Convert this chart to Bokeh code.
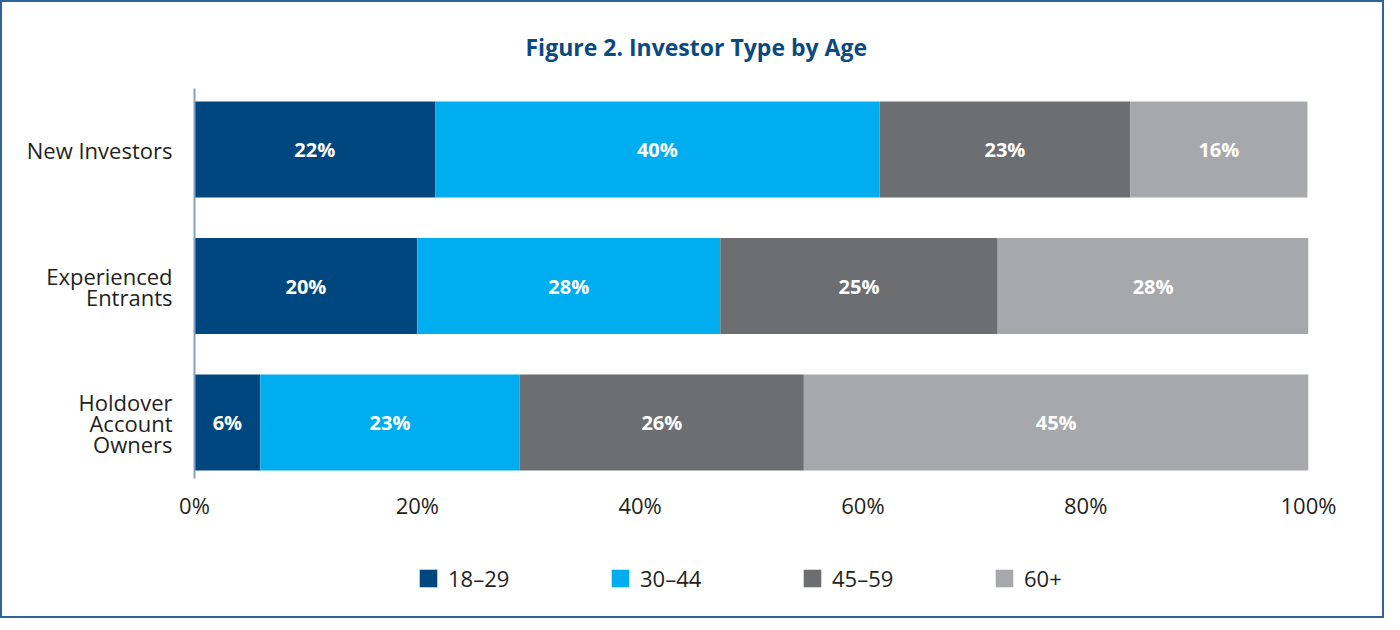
from bokeh.plotting import figure
from bokeh.layouts import column
from bokeh.models import (Range1d, FixedTicker, Legend, LegendItem, ColumnDataSource,
                          PrintfTickFormatter, Title)
from bokeh.core.properties import value
from bokeh.embed import file_html
from bokeh.resources import INLINE

# ---- data ----
investor_types = ["New Investors", "Experienced\nEntrants", "Holdover\nAccount\nOwners"]
age_groups = ["18–29", "30–44", "45–59", "60+"]
share_18_29 = [21.6, 20.0, 5.9]
share_30_44 = [39.9, 27.2, 23.3]
share_45_59 = [22.5, 24.9, 25.5]
share_60_plus = [15.9, 27.9, 45.3]
shown_18_29 = [22, 20, 6]
shown_30_44 = [40, 28, 23]
shown_45_59 = [23, 25, 26]
shown_60_plus = [16, 28, 45]
x_ticks = [0, 20, 40, 60, 80, 100]
colors = ["#00467F", "#00ADEE", "#6D6E72", "#A7A8AC"]

FONT = "Open Sans"
TEXT_COLOR = "#231F20"
W = 1380

ypos = list(range(len(investor_types)))
src = ColumnDataSource(data={
    "y": ypos,
    age_groups[0]: share_18_29,
    age_groups[1]: share_30_44,
    age_groups[2]: share_45_59,
    age_groups[3]: share_60_plus,
})

p = figure(width=W, height=526,
           x_range=Range1d(0, 100), y_range=Range1d(2.41, -0.447),
           output_backend="svg", toolbar_location=None,
           min_border_left=192, min_border_right=74,
           min_border_top=86, min_border_bottom=50)

p.title = Title(text="Figure 2. Investor Type by Age", align="left", offset=331,
                standoff=52,
                text_font=FONT, text_font_size="23px", text_font_style="bold",
                text_color="#0B4A7F")

renderers = p.hbar_stack(age_groups, y="y", height=0.703, color=colors,
                         line_color=None, source=src)

# segment labels
series = [share_18_29, share_30_44, share_45_59, share_60_plus]
shown = [shown_18_29, shown_30_44, shown_45_59, shown_60_plus]
lx, ly, lt = [], [], []
for i in ypos:
    left = 0.0
    for s, sh in zip(series, shown):
        lx.append(left + s[i] / 2)
        ly.append(i)
        lt.append(f"{sh[i]}%")
        left += s[i]
p.text(x=lx, y=ly, text=lt, text_align="center", text_baseline="middle",
       text_color="white", text_font=value(FONT), text_font_style="bold",
       text_font_size="20px")

# axes
p.xgrid.visible = False
p.ygrid.visible = False
p.outline_line_color = None

p.xaxis.ticker = FixedTicker(ticks=x_ticks)
p.xaxis.formatter = PrintfTickFormatter(format="%d%%")
p.xaxis.axis_line_color = None
p.xaxis.major_tick_line_color = None
p.xaxis.minor_tick_line_color = None
p.xaxis.major_label_text_font = FONT
p.xaxis.major_label_text_font_size = "22px"
p.xaxis.major_label_text_color = TEXT_COLOR
p.xaxis.major_label_standoff = 5

p.yaxis.ticker = FixedTicker(ticks=ypos)
p.yaxis.major_label_overrides = {i: t for i, t in zip(ypos, investor_types)}
p.yaxis.axis_line_color = "#85A2C4"
p.yaxis.axis_line_width = 2
p.yaxis.major_tick_line_color = None
p.yaxis.minor_tick_line_color = None
p.yaxis.major_label_text_font = FONT
p.yaxis.major_label_text_font_size = "22px"
p.yaxis.major_label_text_color = TEXT_COLOR
p.yaxis.major_label_text_line_height = 0.7
p.yaxis.major_label_standoff = 16

# legend strip (its own small figure, same series drawn off-screen)
pl = figure(width=W, height=88, x_range=Range1d(1000, 1001), y_range=Range1d(100, 101),
            output_backend="svg", toolbar_location=None,
            x_axis_type=None, y_axis_type=None,
            min_border=0, min_border_left=0, min_border_right=0,
            min_border_top=0, min_border_bottom=0)
pl.outline_line_color = None
pl.xgrid.visible = False
pl.ygrid.visible = False
leg_renderers = pl.hbar_stack(age_groups, y="y", height=0.703, color=colors,
                              line_color=None, source=src)
legend = Legend(items=[LegendItem(label=g, renderers=[r]) for g, r in zip(age_groups, leg_renderers)],
                orientation="horizontal", location=(223, 23),
                spacing=0, label_standoff=9, label_width=161,
                glyph_width=22, glyph_height=22, label_height=22,
                padding=0, margin=0, border_line_color=None, background_fill_alpha=0,
                label_text_font=FONT, label_text_font_size="22px",
                label_text_color=TEXT_COLOR)
pl.add_layout(legend)

layout = column(p, pl, spacing=0, styles={"border": "2px solid #2E6499"})

open("out.html", "w").write(file_html(layout, INLINE))
